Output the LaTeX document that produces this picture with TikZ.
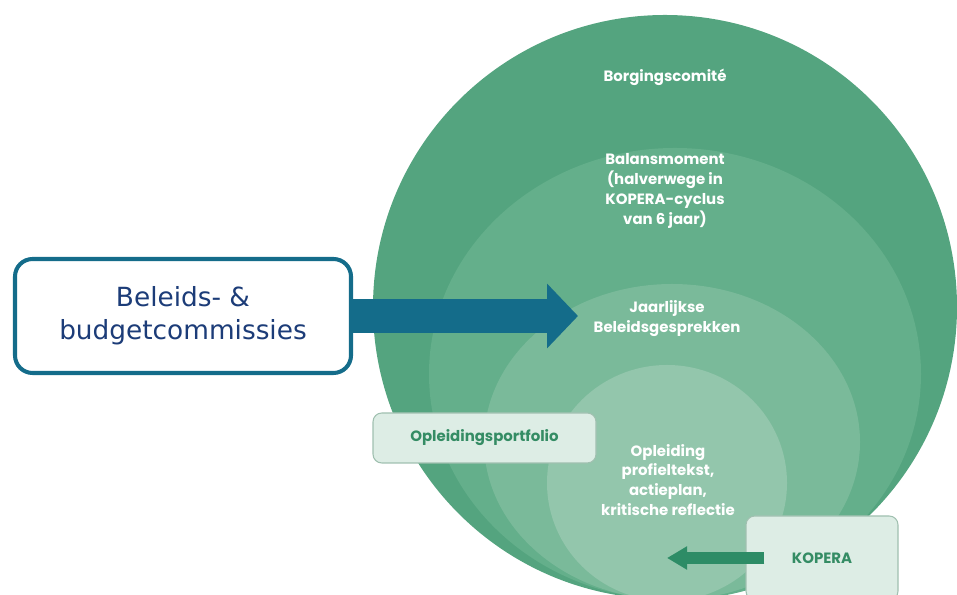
\documentclass[tikz,border=0pt]{standalone}
\usepackage{fontspec}
\setmainfont{Poppins}
\newfontfamily\boxfont{DejaVu Sans}
\usetikzlibrary{arrows.meta, positioning}
\definecolor{ringA}{RGB}{84, 164, 127}
\definecolor{ringB}{RGB}{100, 175, 139}
\definecolor{ringC}{RGB}{122, 186, 154}
\definecolor{ringD}{RGB}{147, 198, 172}
\definecolor{tagfill}{RGB}{221, 237, 229}
\definecolor{tagline}{RGB}{160, 192, 176}
\definecolor{tagtext}{RGB}{52, 140, 100}
\definecolor{tagarrow}{RGB}{45, 140, 102}
\definecolor{budgetline}{RGB}{20, 108, 138}
\definecolor{budgettext}{RGB}{28, 60, 120}

\begin{document}
\begin{tikzpicture}[
  ringlabel/.style={text=white, font=\fontsize{8.5}{11.3}\selectfont\bfseries,
                    align=center, inner sep=1pt},
  tag/.style={draw=tagline, fill=tagfill, rounded corners=5pt, line width=0.6pt,
              text=tagtext, font=\fontsize{8.5}{10}\selectfont\bfseries},
  budgetbox/.style={draw=budgetline, fill=white, line width=2.3pt,
                    rounded corners=10pt, minimum width=6.72cm, minimum height=2.28cm,
                    align=center, text=budgettext,
                    font=\boxfont\fontsize{15}{18.7}\selectfont},
  >=Triangle
]
  \useasboundingbox (0,0) rectangle (19.14,11.9);

  % ── nested rings, all touching at the bottom ──
  \fill[ringA] (13.30,5.76) ellipse [x radius=5.84, y radius=5.84];
  \fill[ringB] (13.50,4.42) ellipse [x radius=4.92, y radius=4.52];
  \fill[ringC] (13.44,3.06) ellipse [x radius=3.76, y radius=3.16];
  \fill[ringD] (13.34,2.24) ellipse [x radius=2.40, y radius=2.36];

  % ── ring labels ──
  \node[ringlabel] (borging) at (13.30,10.36) {Borgingscomité};
  \node[ringlabel] (balans) at (13.30,8.08)
    {Balansmoment\\(halverwege in\\KOPERA-cyclus\\van 6 jaar)};
  \node[ringlabel] (jaarlijks) at (13.34,5.52) {Jaarlijkse\\Beleidsgesprekken};
  \node[ringlabel] (opleiding) at (13.36,2.30)
    {Opleiding\\profieltekst,\\actieplan,\\kritische reflectie};

  % ── tags ──
  \node[tag, minimum width=4.46cm, minimum height=1.0cm] (portfolio) at (9.69,3.14)
    {Opleidingsportfolio};
  \node[tag, minimum width=3.04cm, minimum height=1.68cm] (kopera) at (16.44,0.74)
    {KOPERA};
  \coordinate (koperatip) at (13.34,0.74);
  \draw[->, tagarrow, line width=0.24cm, >={Triangle[length=0.40cm, width=0.44cm]}]
    ([xshift=0.38cm]kopera.west) -- (koperatip);

  % ── commissions ──
  \node[budgetbox] (budget) at (3.66,5.58) {Beleids- \&\\budgetcommissies};
  \coordinate (budgettip) at (11.56,5.58);
  \draw[->, budgetline, line width=0.68cm, >={Triangle[length=0.62cm, width=1.26cm]}]
    (budget.east) -- (budgettip);
\end{tikzpicture}
\end{document}
